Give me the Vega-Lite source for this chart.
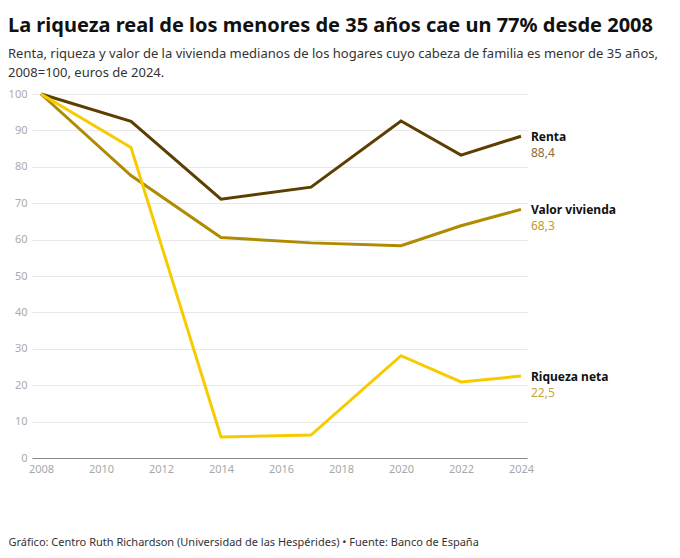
{
  "$schema": "https://vega.github.io/schema/vega-lite/v6.json",
  "width": 495,
  "height": 364,
  "autosize": "none",
  "padding": {"left": 32, "top": 94, "right": 153, "bottom": 100},
  "background": "white",
  "config": {
    "font": "Noto Sans",
    "view": {"stroke": null},
    "locale": {"number": {"decimal": ",", "thousands": ".", "grouping": [3], "currency": ["", " €"]}}
  },
  "title": {
    "text": "La riqueza real de los menores de 35 años cae un 77% desde 2008",
    "subtitle": ["Renta, riqueza y valor de la vivienda medianos de los hogares cuyo cabeza de familia es menor de 35 años,", "2008=100, euros de 2024."],
    "anchor": "start",
    "frame": "group",
    "dx": -24,
    "offset": 8,
    "font": "Noto Sans",
    "fontSize": 20,
    "fontWeight": "bold",
    "color": "#111111",
    "subtitleFont": "Noto Sans",
    "subtitleFontSize": 13,
    "subtitleColor": "#333333",
    "subtitleLineHeight": 19,
    "subtitlePadding": 12
  },
  "data": {
    "values": [
      {"year": 2008, "serie": "Renta", "value": 100},
      {"year": 2011, "serie": "Renta", "value": 92.5},
      {"year": 2014, "serie": "Renta", "value": 71.1},
      {"year": 2017, "serie": "Renta", "value": 74.4},
      {"year": 2020, "serie": "Renta", "value": 92.6},
      {"year": 2022, "serie": "Renta", "value": 83.2},
      {"year": 2024, "serie": "Renta", "value": 88.4},
      {"year": 2008, "serie": "Valor vivienda", "value": 100},
      {"year": 2011, "serie": "Valor vivienda", "value": 77.6},
      {"year": 2014, "serie": "Valor vivienda", "value": 60.6},
      {"year": 2017, "serie": "Valor vivienda", "value": 59.1},
      {"year": 2020, "serie": "Valor vivienda", "value": 58.3},
      {"year": 2022, "serie": "Valor vivienda", "value": 63.8},
      {"year": 2024, "serie": "Valor vivienda", "value": 68.3},
      {"year": 2008, "serie": "Riqueza neta", "value": 100},
      {"year": 2011, "serie": "Riqueza neta", "value": 85.3},
      {"year": 2014, "serie": "Riqueza neta", "value": 5.8},
      {"year": 2017, "serie": "Riqueza neta", "value": 6.3},
      {"year": 2020, "serie": "Riqueza neta", "value": 28.1},
      {"year": 2022, "serie": "Riqueza neta", "value": 20.9},
      {"year": 2024, "serie": "Riqueza neta", "value": 22.5}
    ]
  },
  "encoding": {
    "x": {
      "field": "year",
      "type": "quantitative",
      "scale": {"domain": [2007.7, 2024.2], "nice": false, "zero": false},
      "axis": {
        "values": [2008, 2010, 2012, 2014, 2016, 2018, 2020, 2022, 2024],
        "format": "d",
        "grid": false,
        "ticks": false,
        "domainColor": "#8a8a8a",
        "domainWidth": 1.2,
        "labelColor": "#a8a8a8",
        "labelFontSize": 11,
        "labelPadding": 5,
        "title": "Gráfico: Centro Ruth Richardson (Universidad de las Hespérides) • Fuente: Banco de España",
        "titleX": -24,
        "titleY": 87,
        "titleAlign": "left",
        "titleAnchor": "start",
        "titleBaseline": "alphabetic",
        "titleFontSize": 11,
        "titleFontWeight": "normal",
        "titleColor": "#333333"
      }
    },
    "y": {
      "field": "value",
      "type": "quantitative",
      "scale": {"domain": [0, 100], "nice": false},
      "axis": {
        "values": [0, 10, 20, 30, 40, 50, 60, 70, 80, 90, 100],
        "domain": false,
        "ticks": false,
        "gridColor": "#e8e8e8",
        "labelColor": "#ababab",
        "labelFontSize": 11,
        "labelPadding": 5,
        "title": null
      }
    }
  },
  "layer": [
    {
      "mark": {"type": "line", "strokeWidth": 3, "strokeJoin": "miter", "strokeCap": "butt"},
      "encoding": {
        "color": {
          "field": "serie",
          "type": "nominal",
          "scale": {"domain": ["Renta", "Valor vivienda", "Riqueza neta"], "range": ["#5c3f00", "#b08a00", "#f7cb00"]},
          "legend": null
        }
      }
    },
    {
      "transform": [{"filter": "datum.year == 2024"}],
      "mark": {"type": "text", "align": "left", "baseline": "middle", "dx": 10, "dy": 1, "fontSize": 12, "fontWeight": "bold", "color": "#111111"},
      "encoding": {"text": {"field": "serie"}}
    },
    {
      "transform": [{"filter": "datum.year == 2024"}],
      "mark": {"type": "text", "align": "left", "baseline": "middle", "dx": 10, "dy": 17, "fontSize": 12},
      "encoding": {
        "text": {"field": "value", "type": "quantitative", "format": ".1f"},
        "color": {
          "condition": [
            {"test": "datum.serie == 'Renta'", "value": "#8a6d3b"},
            {"test": "datum.serie == 'Valor vivienda'", "value": "#bf9c2e"}
          ],
          "value": "#c6a636"
        }
      }
    }
  ]
}
